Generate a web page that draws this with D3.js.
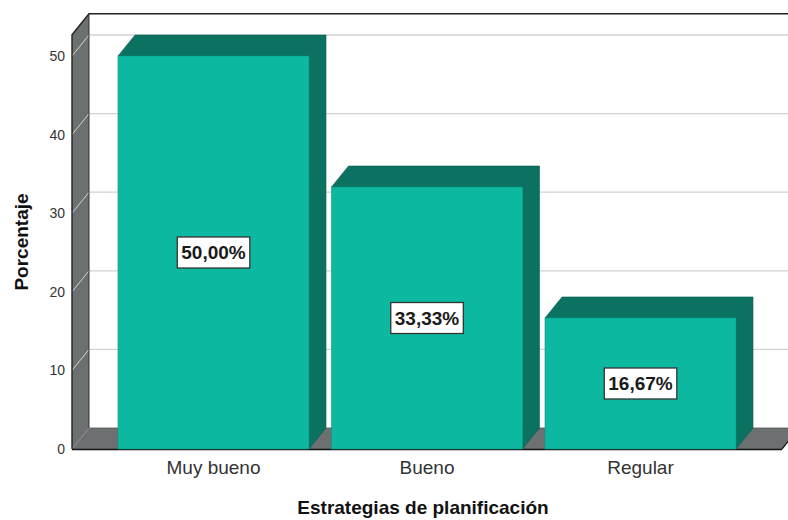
<!DOCTYPE html>
<html>
<head>
<meta charset="utf-8">
<script src="https://cdn.jsdelivr.net/npm/d3@7"></script>
<style>
  body { margin: 0; background: #fff; }
  svg { display: block; font-family: "Liberation Sans", Arial, sans-serif; }
</style>
</head>
<body>
<svg id="chart" width="788" height="520"></svg>
<script>
// data
var categories = ["Muy bueno", "Bueno", "Regular"];
var percents = [50.00, 33.33, 16.67];
var tickValues = [0, 10, 20, 30, 40, 50];

var W = 788, H = 520;
var dx = 17, dy = -21;          // depth offset for the 3d look
var left = 72, right = 782;     // front plane x extent
var y0 = 449;                   // front floor line

var svg = d3.select("#chart");

var yScale = d3.scaleLinear()
    .domain([0, 50])
    .range([y0, 56]);

var topVal = 52.7; // top of the back wall

var xScale = d3.scaleBand()
    .domain(categories)
    .range([106.75, 747.25])
    .paddingInner(0.1054)
    .paddingOuter(0.0527);

var wallGray = "#6d7071";

// back wall gridlines
svg.selectAll("line.grid")
    .data(tickValues.filter(function(d) { return d > 0; }))
    .enter()
    .append("line")
    .attr("class", "grid")
    .attr("x1", left + dx)
    .attr("x2", W + 20)
    .attr("y1", function(d) { return yScale(d) + dy; })
    .attr("y2", function(d) { return yScale(d) + dy; })
    .attr("stroke", "#d2d2d2")
    .attr("stroke-width", 1.3);

// left wall
svg.append("path")
    .attr("d", "M" + left + "," + yScale(topVal) +
        "L" + (left + dx) + "," + (yScale(topVal) + dy) +
        "L" + (left + dx) + "," + (y0 + dy) +
        "L" + left + "," + y0 + "Z")
    .attr("fill", wallGray);

// diagonals on the wall
svg.selectAll("line.diag")
    .data(tickValues.filter(function(d) { return d > 0; }))
    .enter()
    .append("line")
    .attr("class", "diag")
    .attr("x1", left)
    .attr("x2", left + dx)
    .attr("y1", function(d) { return yScale(d); })
    .attr("y2", function(d) { return yScale(d) + dy; })
    .attr("stroke", "#d2d2d2")
    .attr("stroke-width", 1);

// floor
svg.append("path")
    .attr("d", "M" + left + "," + y0 +
        "L" + (left + dx) + "," + (y0 + dy) +
        "L" + (right + dx) + "," + (y0 + dy) +
        "L" + right + "," + y0 + "Z")
    .attr("fill", wallGray);

svg.append("line")
    .attr("x1", left).attr("y1", y0)
    .attr("x2", left + dx).attr("y2", y0 + dy)
    .attr("stroke", "#8a8c8d").attr("stroke-width", 1);

// frame edges
svg.append("path")
    .attr("d", "M" + left + "," + y0 +
        "L" + left + "," + yScale(topVal) +
        "L" + (left + dx) + "," + (yScale(topVal) + dy) +
        "L" + (W + 20) + "," + (yScale(topVal) + dy))
    .attr("fill", "none")
    .attr("stroke", "#222")
    .attr("stroke-width", 1.4);

svg.append("line")
    .attr("x1", left + dx).attr("x2", left + dx)
    .attr("y1", yScale(topVal) + dy).attr("y2", y0 + dy)
    .attr("stroke", "#333").attr("stroke-width", 1);

svg.append("line")
    .attr("x1", left + dx).attr("x2", right + dx + 20)
    .attr("y1", y0 + dy).attr("y2", y0 + dy)
    .attr("stroke", "#555").attr("stroke-width", 0.8);

svg.append("line")
    .attr("x1", left).attr("x2", right)
    .attr("y1", y0 + 0.5).attr("y2", y0 + 0.5)
    .attr("stroke", "#111").attr("stroke-width", 1.6);

svg.append("line")
    .attr("x1", right).attr("x2", right + dx)
    .attr("y1", y0).attr("y2", y0 + dy)
    .attr("stroke", "#111").attr("stroke-width", 1.2);

// bars
var bars = svg.selectAll("g.bar")
    .data(categories.map(function(c, i) { return { cat: c, val: percents[i] }; }))
    .enter()
    .append("g")
    .attr("class", "bar");

var bw = xScale.bandwidth();

bars.append("path") // side
    .attr("d", function(d) {
        var x = xScale(d.cat) + bw, yt = yScale(d.val);
        return "M" + x + "," + yt + "L" + (x + dx) + "," + (yt + dy) +
            "L" + (x + dx) + "," + (y0 + dy) + "L" + x + "," + y0 + "Z";
    })
    .attr("fill", "#0b7262")
    .attr("stroke", "#0a5f52")
    .attr("stroke-width", 0.6);

bars.append("path") // top
    .attr("d", function(d) {
        var x = xScale(d.cat), yt = yScale(d.val);
        return "M" + x + "," + yt + "L" + (x + dx) + "," + (yt + dy) +
            "L" + (x + bw + dx) + "," + (yt + dy) + "L" + (x + bw) + "," + yt + "Z";
    })
    .attr("fill", "#0b7262")
    .attr("stroke", "#0a5f52")
    .attr("stroke-width", 0.6);

bars.append("rect") // front
    .attr("x", function(d) { return xScale(d.cat); })
    .attr("y", function(d) { return yScale(d.val); })
    .attr("width", bw)
    .attr("height", function(d) { return y0 - yScale(d.val); })
    .attr("fill", "#0cb8a0")
    .attr("stroke", "#0a9a86")
    .attr("stroke-width", 0.6);

// value labels
bars.each(function(d) {
    var g = d3.select(this);
    var cx = xScale(d.cat) + bw / 2;
    var cy = (yScale(d.val) + y0) / 2;
    var t = g.append("text")
        .attr("x", cx)
        .attr("y", cy)
        .attr("dy", "0.36em")
        .attr("text-anchor", "middle")
        .attr("font-size", 19)
        .attr("font-weight", "bold")
        .attr("fill", "#1a1a1a")
        .text(d.val.toFixed(2).replace(".", ",") + "%");
    var bb = t.node().getBBox();
    g.insert("rect", "text")
        .attr("x", bb.x - 4)
        .attr("y", cy - 15.5)
        .attr("width", bb.width + 8)
        .attr("height", 31)
        .attr("fill", "#fff")
        .attr("stroke", "#333")
        .attr("stroke-width", 1.3);
});

// y tick labels
svg.selectAll("text.ytick")
    .data(tickValues)
    .enter()
    .append("text")
    .attr("class", "ytick")
    .attr("x", 65)
    .attr("y", function(d) { return yScale(d); })
    .attr("dy", "0.35em")
    .attr("text-anchor", "end")
    .attr("font-size", 14)
    .attr("fill", "#333")
    .text(function(d) { return d; });

// category labels
svg.selectAll("text.xcat")
    .data(categories)
    .enter()
    .append("text")
    .attr("class", "xcat")
    .attr("x", function(d) { return xScale(d) + bw / 2; })
    .attr("y", 474)
    .attr("text-anchor", "middle")
    .attr("font-size", 19)
    .attr("fill", "#333")
    .text(function(d) { return d; });

// axis titles
svg.append("text")
    .attr("x", 423)
    .attr("y", 514)
    .attr("text-anchor", "middle")
    .attr("font-size", 19)
    .attr("font-weight", "bold")
    .attr("fill", "#111")
    .text("Estrategias de planificación");

svg.append("text")
    .attr("transform", "translate(28,242) rotate(-90)")
    .attr("text-anchor", "middle")
    .attr("font-size", 19)
    .attr("font-weight", "bold")
    .attr("fill", "#111")
    .text("Porcentaje");
</script>
</body>
</html>
